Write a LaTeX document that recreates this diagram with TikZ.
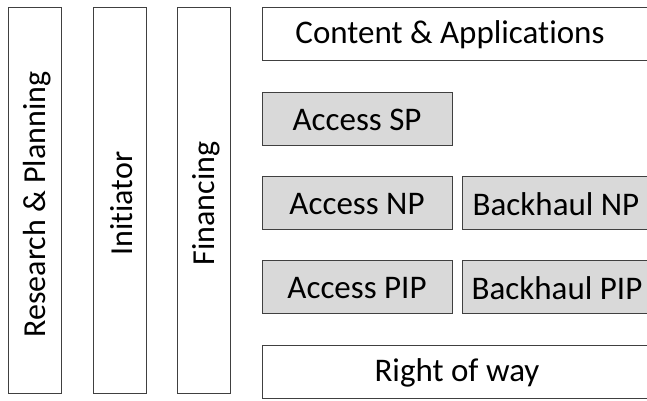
\documentclass[tikz,border=0pt]{standalone}
\usepackage{fontspec}
\setmainfont[Ligatures={NoCommon}]{Carlito}
\begin{document}
\begin{tikzpicture}[x=1pt,y=-1pt,
  lbl/.style={font=\fontsize{33}{38}\selectfont, text=black, inner sep=0pt},
  vlbl/.style={lbl, font=\fontsize{32}{37}\selectfont, rotate=90},
  box/.style={lbl, draw=black!75, line width=1pt, fill=white, anchor=north west},
  grey/.style={box, fill=black!15},
  vbox/.style={box, minimum width=53pt, minimum height=386pt},
  hbox/.style={minimum height=53pt}
]
\useasboundingbox (0,0) rectangle (647,400);
\clip (0,0) rectangle (647,400);
% vertical boxes
\node[vbox] (rp) at (8,7) {};
\node[vlbl] (rpt) at ([xshift=2pt,yshift=-4pt]rp.center) {Research \& Planning};
\node[vbox] (ini) at (93,7) {};
\node[vlbl] (init) at ([xshift=2pt,yshift=-3pt]ini.center) {Initiator};
\node[vbox] (fin) at (177,7) {};
\node[vlbl] (fint) at ([xshift=2pt,yshift=-3pt]fin.center) {Financing};
% right boxes
\node[box, hbox, minimum width=388pt] (ca) at (262,7) {};
\node[lbl] (cat) at (450,35) {Content \& Applications};
\node[grey, hbox, minimum width=190pt] (asp) at (262,92) {};
\node[lbl] (aspt) at (357,120) {Access SP};
\node[grey, hbox, minimum width=190pt] (anp) at (262,176) {};
\node[lbl] (anpt) at (357,204) {Access NP};
\node[grey, hbox, minimum width=188pt] (bnp) at (462,176) {};
\node[lbl] (bnpt) at (556,204) {Backhaul NP};
\node[grey, hbox, minimum width=190pt] (apip) at (262,260) {};
\node[lbl] (apipt) at (357,288) {Access PIP};
\node[grey, hbox, minimum width=188pt] (bpip) at (462,260) {};
\node[lbl] (bpipt) at (557,288) {Backhaul PIP};
\node[box, hbox, minimum width=388pt] (row) at (262,345) {};
\node[lbl] (rowt) at (457,373) {Right of way};
\end{tikzpicture}
\end{document}
